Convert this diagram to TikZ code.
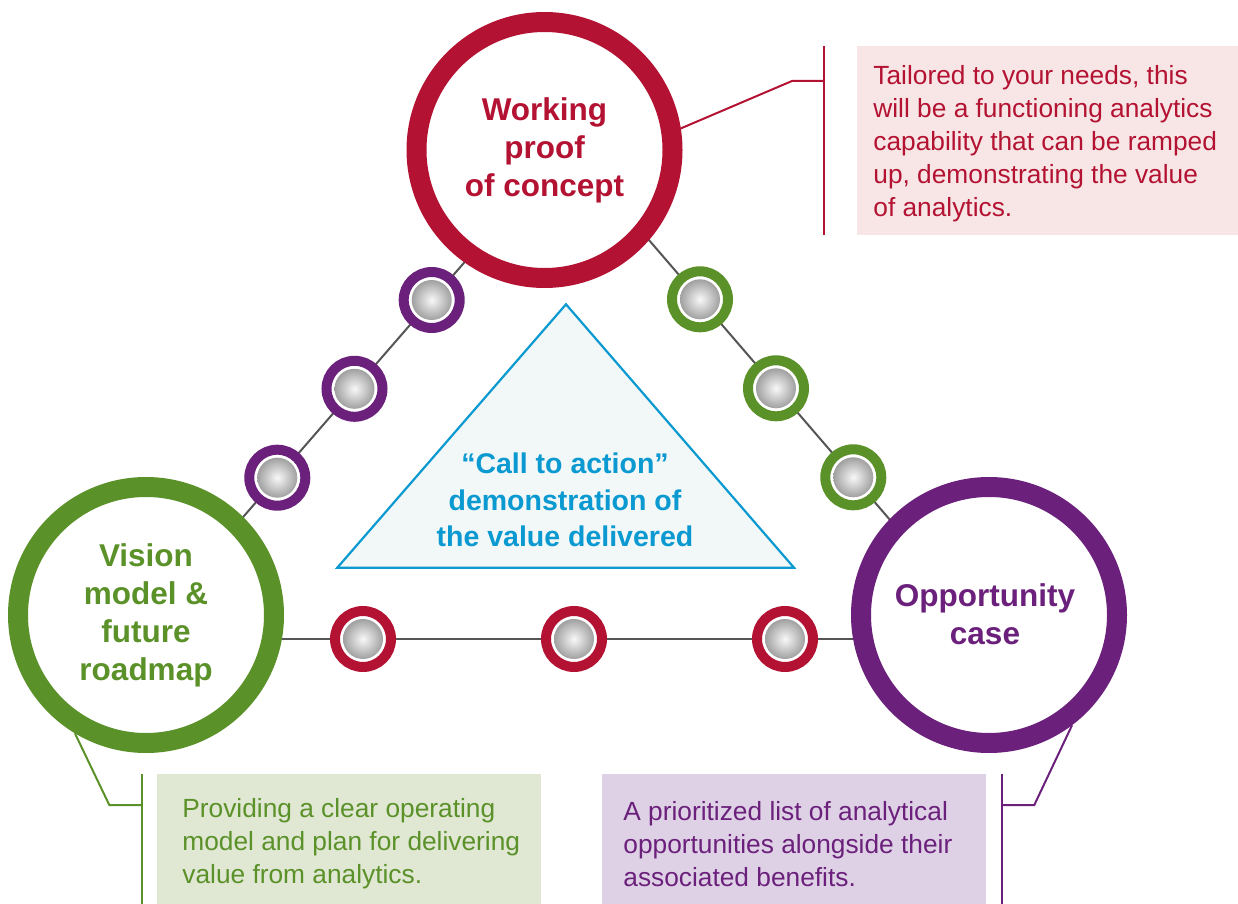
\documentclass[tikz,border=0pt]{standalone}
\usepackage{fontspec}
\setmainfont{Liberation Sans}
\definecolor{cred}{RGB}{180,18,50}
\definecolor{cgreen}{RGB}{91,145,41}
\definecolor{cpurple}{RGB}{107,32,123}
\definecolor{cblue}{RGB}{10,153,208}
\definecolor{trifill}{RGB}{242,247,248}
\definecolor{pinkfill}{RGB}{247,230,229}
\definecolor{greenfill}{RGB}{224,231,211}
\definecolor{purplefill}{RGB}{222,209,230}
\definecolor{linegray}{RGB}{85,85,85}
\definecolor{ballin}{RGB}{248,248,248}
\definecolor{ballout}{RGB}{125,125,125}
\begin{document}
\begin{tikzpicture}[x=0.5pt,y=-0.5pt,
  bigcircle/.style={circle, inner sep=0pt, minimum size=128pt, line width=10pt, fill=white, align=center,
    font={\fontsize{15.75}{19}\selectfont\bfseries}},
  smallcircle/.style={circle, inner sep=0pt, minimum size=28pt, line width=5pt, fill=white,
    path picture={\shade[inner color=ballin, outer color=ballout] (path picture bounding box.center) circle (10pt);}},
  chainline/.style={draw=linegray, line width=1pt},
  calloutline/.style={line width=1pt},
  boxnode/.style={rectangle, inner sep=0pt, anchor=north west, draw=none},
  callouttext/.style={align=left, anchor=west, inner sep=0pt, font={\fontsize{13.15}{16.5}\selectfont}},
  tritext/.style={align=center, inner sep=0pt, text=cblue, font={\fontsize{14.25}{18.25}\selectfont\bfseries}}
]
\useasboundingbox (0,0) rectangle (1238,904);

% chain line end points (hidden inside the big circles)
\coordinate (lt1) at (562,150);
\coordinate (lt2) at (158,615);
\coordinate (rt1) at (571.4,150);
\coordinate (rt2) at (971.9,615);
\coordinate (bt1) at (146,639);
\coordinate (bt2) at (989,639);
\draw[chainline] (lt1) -- (lt2);
\draw[chainline] (rt1) -- (rt2);
\draw[chainline] (bt1) -- (bt2);

% central triangle
\coordinate (apex) at (566,304.3);
\coordinate (tbl) at (337.3,567.7);
\coordinate (tbr) at (794,567.7);
\draw[draw=cblue, fill=trifill, line width=1.1pt, line join=miter] (apex) -- (tbl) -- (tbr) -- cycle;
\node[tritext] (calltext) at (565,500) {“Call to action”\\demonstration of\\the value delivered};

% big circles
\node[bigcircle, draw=cred, text=cred] (top) at (544.5,150) {Working\\proof\\of concept};
\node[bigcircle, draw=cgreen, text=cgreen] (left) at (146,615) {Vision\\model \&\\future\\roadmap};
\node[bigcircle, draw=cpurple] (right) at (989,615) {};
\node[align=center, inner sep=0pt, text=cpurple, font={\fontsize{15.75}{19}\selectfont\bfseries}] (righttext) at (985,614) {Opportunity\\case};

% small circles
\node[smallcircle, draw=cpurple] (sl1) at (431.7,300) {};
\node[smallcircle, draw=cpurple] (sl2) at (354.5,388.8) {};
\node[smallcircle, draw=cpurple] (sl3) at (277.3,477.7) {};
\node[smallcircle, draw=cgreen] (sr1) at (700,299.3) {};
\node[smallcircle, draw=cgreen] (sr2) at (776,388.3) {};
\node[smallcircle, draw=cgreen] (sr3) at (853.3,477.3) {};
\node[smallcircle, draw=cred] (sb1) at (363,639) {};
\node[smallcircle, draw=cred] (sb2) at (574,639) {};
\node[smallcircle, draw=cred] (sb3) at (785,639) {};

% callout boxes
\node[boxnode, fill=pinkfill, minimum width=190.5pt, minimum height=94.5pt] (pinkbox) at (857,46) {};
\node[boxnode, fill=greenfill, minimum width=192pt, minimum height=65pt] (greenbox) at (157,774) {};
\node[boxnode, fill=purplefill, minimum width=192pt, minimum height=65pt] (purplebox) at (602,774) {};

% callout lines
\coordinate (tb1) at (824,46);
\coordinate (tb2) at (824,235);
\coordinate (tk) at (824,81);
\coordinate (te) at (792,81);
\draw[calloutline, draw=cred] (tb1) -- (tb2);
\draw[calloutline, draw=cred] (top.9) -- (te) -- (tk);

\coordinate (gb1) at (141.7,774);
\coordinate (gb2) at (141.7,904);
\coordinate (gk) at (141.7,805);
\coordinate (ge) at (109.3,805);
\draw[calloutline, draw=cgreen] (gb1) -- (gb2);
\draw[calloutline, draw=cgreen] (left.239) -- (ge) -- (gk);

\coordinate (pb1) at (1002,774);
\coordinate (pb2) at (1002,904);
\coordinate (pk) at (1002,805);
\coordinate (pe) at (1034.3,805);
\draw[calloutline, draw=cpurple] (pb1) -- (pb2);
\draw[calloutline, draw=cpurple] (right.307) -- (pe) -- (pk);

% callout texts
\node[callouttext, text=cred] (toptext) at (873,144) {Tailored to your needs, this\\will be a functioning analytics\\capability that can be ramped\\up, demonstrating the value\\of analytics.};
\node[callouttext, text=cgreen] (greentext) at (182,844) {Providing a clear operating\\model and plan for delivering\\value from analytics.};
\node[callouttext, text=cpurple] (purpletext) at (623,844) {A prioritized list of analytical\\opportunities alongside their\\associated benefits.};
\end{tikzpicture}
\end{document}
